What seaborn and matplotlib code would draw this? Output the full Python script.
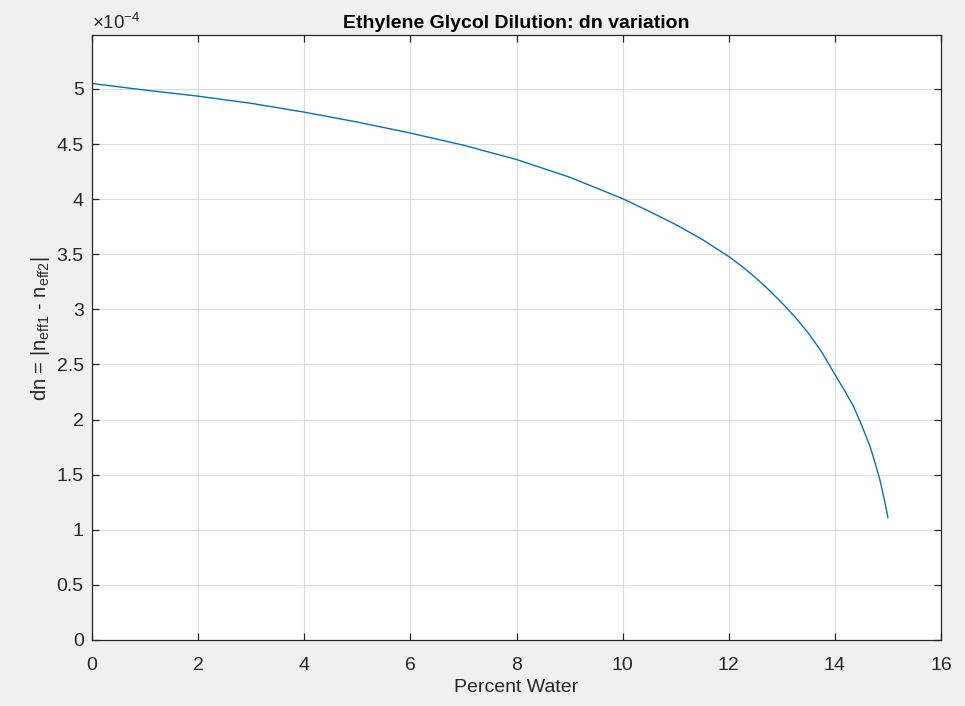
import numpy as np
import pandas as pd
import matplotlib
matplotlib.use("Agg")
import matplotlib.pyplot as plt
import seaborn as sns
from matplotlib.ticker import FuncFormatter

# Data (dn in units of 1e-4)
percent_water = [0, 1, 2, 3, 4, 5, 6, 7, 8, 9, 10, 10.5, 11, 11.5, 12, 12.25,
                 12.5, 12.75, 13, 13.25, 13.5, 13.75, 14, 14.2, 14.35, 14.5,
                 14.66, 14.75, 14.85, 14.93, 15]
dn_e4 = [5.05, 4.99, 4.935, 4.87, 4.79, 4.70, 4.60, 4.49, 4.36, 4.20, 4.005,
         3.89, 3.77, 3.635, 3.48, 3.39, 3.29, 3.18, 3.06, 2.93, 2.785, 2.615,
         2.41, 2.25, 2.12, 1.955, 1.76, 1.62, 1.45, 1.28, 1.11]
x_ticks = [0, 2, 4, 6, 8, 10, 12, 14, 16]
y_ticks_e4 = [0, 0.5, 1, 1.5, 2, 2.5, 3, 3.5, 4, 4.5, 5]

df = pd.DataFrame({"x": percent_water, "y": np.array(dn_e4) * 1e-4})

sns.set_theme(style="white")
plt.rcParams["font.family"] = ["Liberation Sans", "DejaVu Sans"]
plt.rcParams["mathtext.default"] = "regular"

fig = plt.figure(figsize=(9.65, 7.06), dpi=100, facecolor="#f0f0f0")
ax = fig.add_axes([92 / 965, 66 / 706, 849 / 965, 605 / 706])
ax.set_facecolor("white")

sns.lineplot(data=df, x="x", y="y", ax=ax, color="#0072BD", linewidth=1.0)

ax.set_xlim(0, 16)
ax.set_ylim(0, 5.49e-4)
ax.set_xticks(x_ticks)
ax.set_yticks([v * 1e-4 for v in y_ticks_e4])
ax.yaxis.set_major_formatter(FuncFormatter(lambda v, p: f"{v * 1e4:g}"))
ax.xaxis.set_major_formatter(FuncFormatter(lambda v, p: f"{v:g}"))

ax.grid(True, color="#dcdcdc", linewidth=0.8)
ax.set_axisbelow(True)
for s in ax.spines.values():
    s.set_visible(True)
    s.set_color("#262626")
    s.set_linewidth(0.9)
ax.tick_params(direction="in", length=5, width=0.9, color="#262626",
               labelcolor="#262626", labelsize=14, top=True, right=True,
               bottom=True, left=True, labeltop=False, labelright=False)
ax.tick_params(axis="x", pad=12)
ax.tick_params(axis="y", pad=6)

ax.set_xlabel("Percent Water", fontsize=14, color="#262626", labelpad=4)
ax.set_ylabel(r"dn = |n$_{eff1}$ - n$_{eff2}$|", fontsize=14.5,
              color="#262626")
ax.yaxis.set_label_coords(-40 / 849, 0.514)
ax.set_title("Ethylene Glycol Dilution: dn variation", fontsize=14,
             fontweight="bold", color="black", pad=5)
ax.text(0.0, 1.004, r"$\times$10$^{-4}$", transform=ax.transAxes,
        fontsize=13.5, color="#262626", ha="left", va="bottom")

fig.savefig("out.png", dpi=100, facecolor="#f0f0f0")
